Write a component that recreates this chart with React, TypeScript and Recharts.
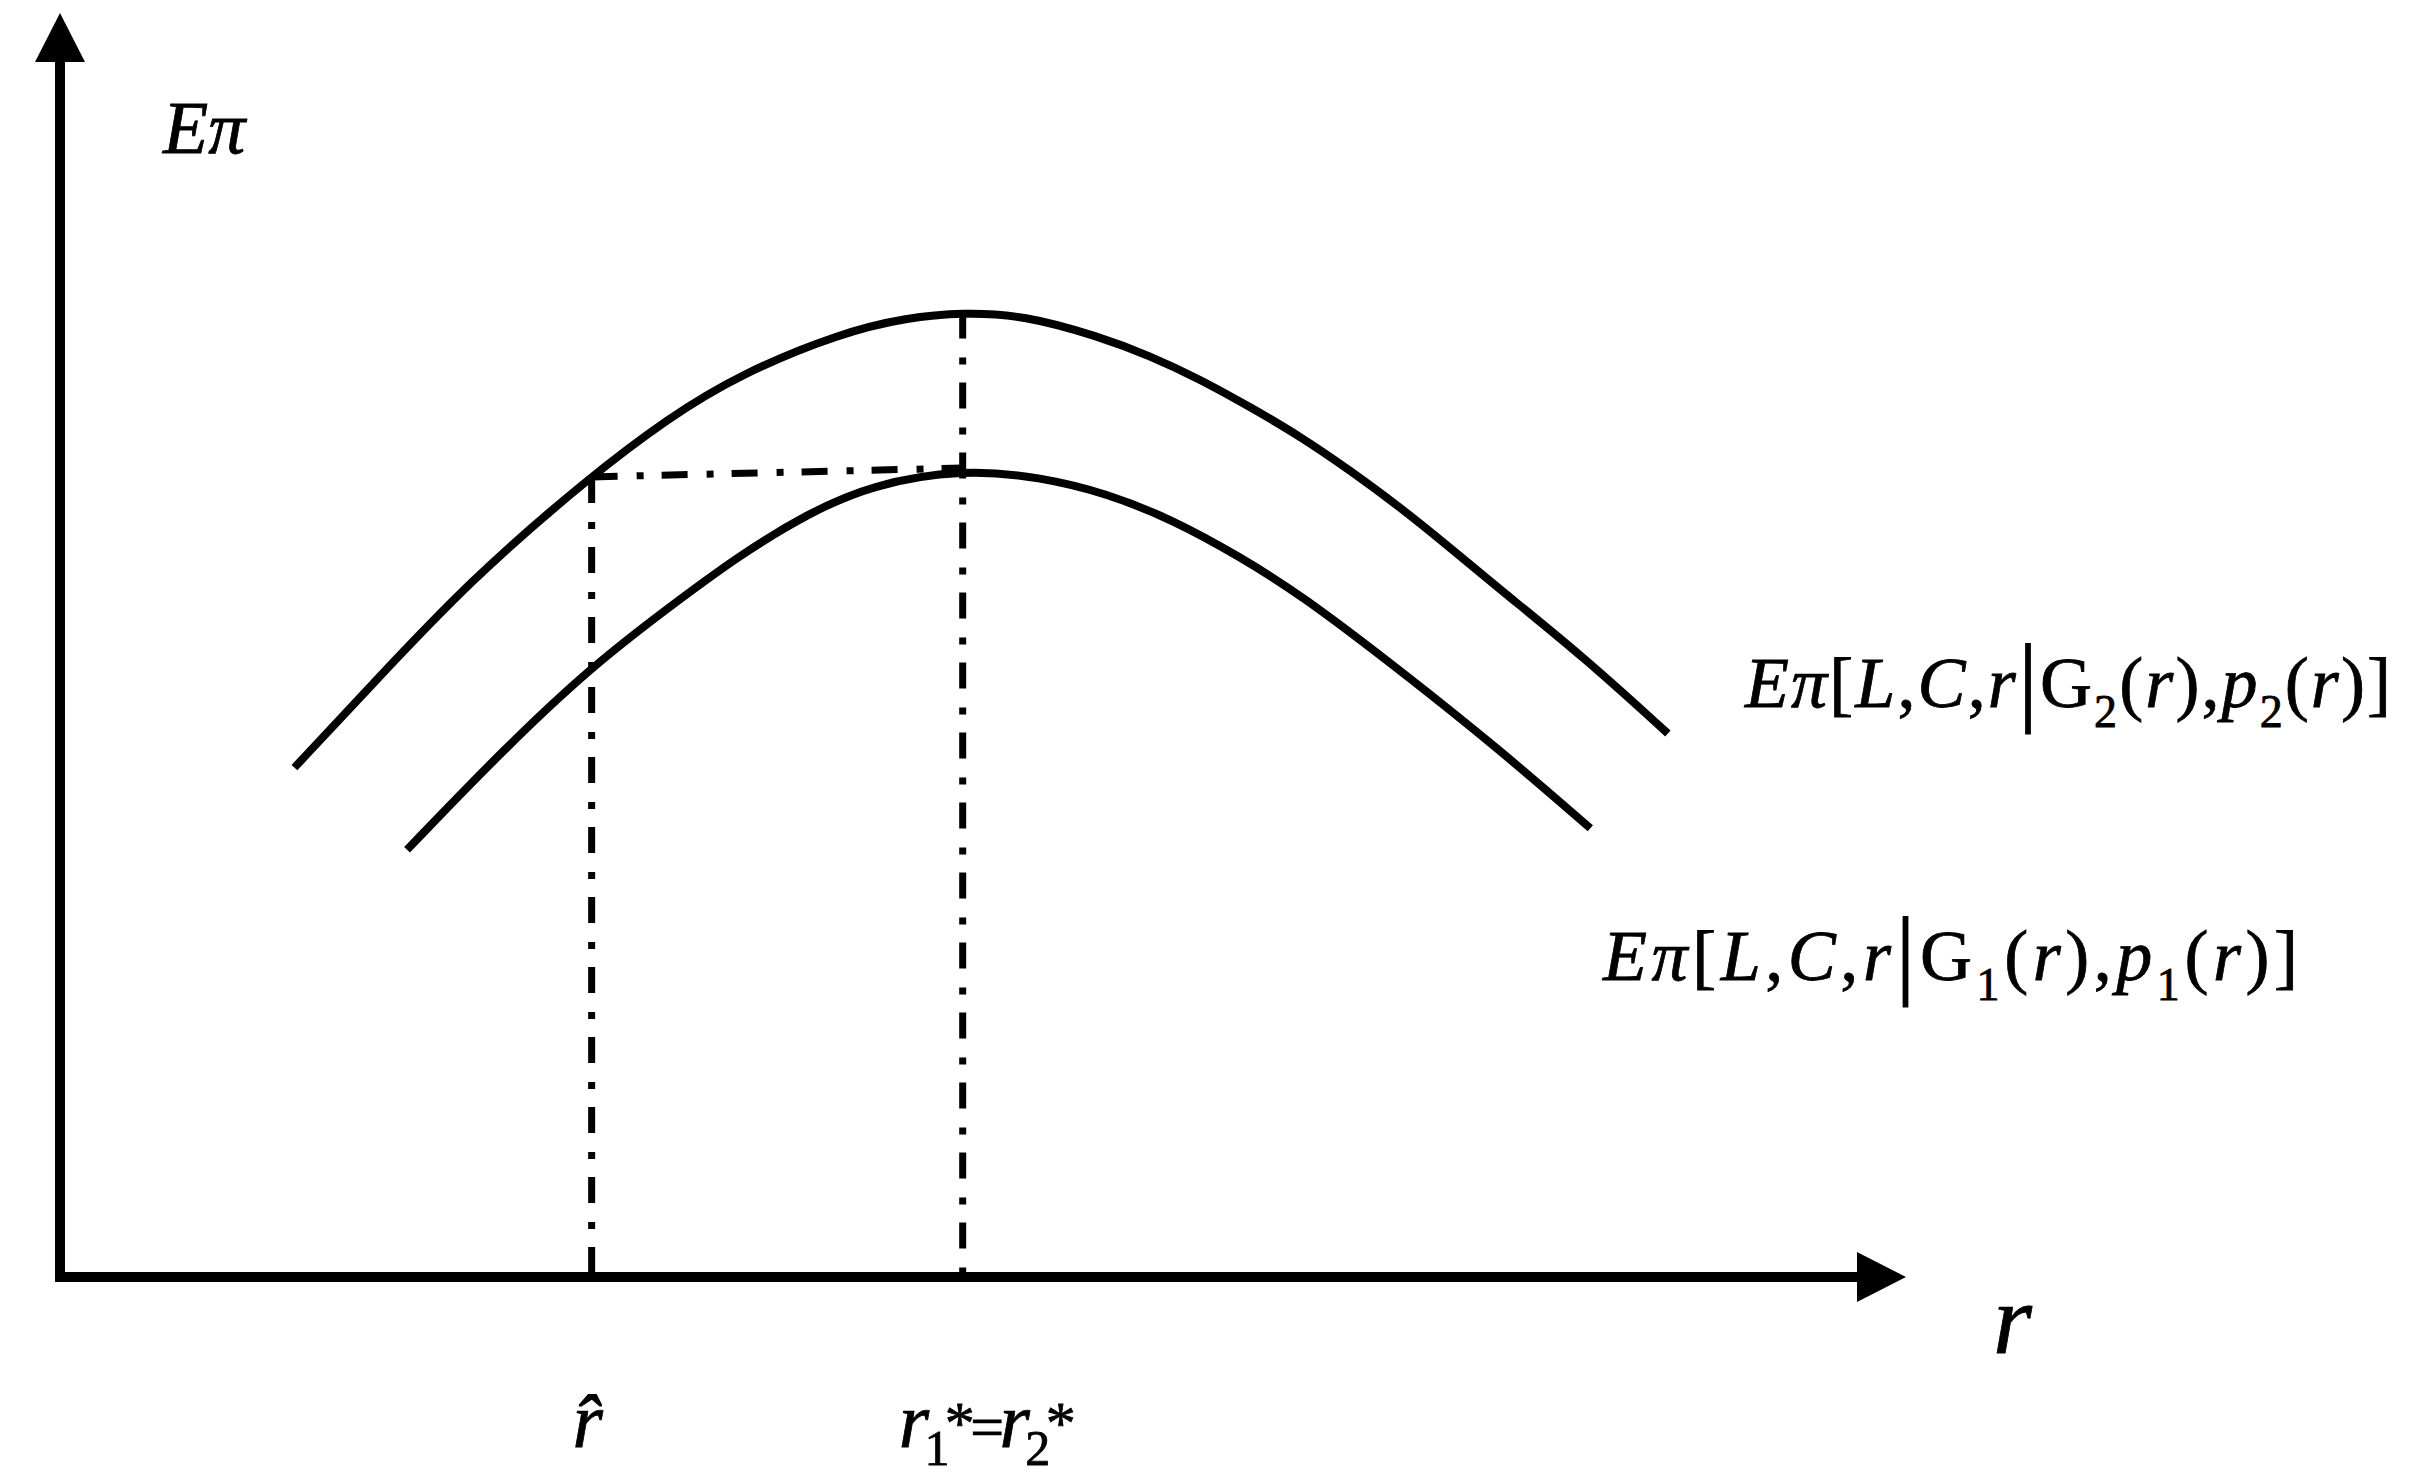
import { LineChart, Line, XAxis, YAxis, ReferenceLine, ReferenceDot } from "recharts"

// upper curve: Eπ[L,C,r | G2(r), p2(r)]
const upperR = [12.7, 16.8, 22.2, 28.7, 33.0, 36.8, 42.3, 45.9, 48.9, 52.2, 56.3, 59.0, 61.8, 64.5, 67.2, 69.9, 72.6, 75.3, 78.0, 82.5, 87.1]
const upperPi = [40.3, 46.7, 55.1, 63.3, 68.0, 71.4, 74.7, 75.9, 76.3, 76.1, 74.4, 72.9, 71.0, 68.8, 66.5, 63.8, 60.9, 57.7, 54.4, 49.1, 43.0]

// lower curve: Eπ[L,C,r | G1(r), p1(r)]
const lowerR = [18.8, 24.0, 28.8, 33.0, 36.8, 40.5, 44.0, 48.9, 53.1, 56.7, 60.3, 63.9, 67.2, 72.6, 78.0, 82.9]
const lowerPi = [33.8, 41.7, 48.3, 53.0, 57.1, 60.4, 62.7, 63.9, 63.3, 62.0, 59.9, 57.0, 54.0, 48.0, 41.7, 35.5]

// marked rates on the r axis
const rHat = 28.8
const rStar = 48.9
const piAtRHat = 63.3
const piUpperPeak = 76.3
const piLowerPeak = 64.0

const axisArrowY = 96.1
const axisArrowX = 97.3

const upperData = upperR.map((r, i) => ({ r, pi: upperPi[i] }))
const lowerData = lowerR.map((r, i) => ({ r, pi: lowerPi[i] }))

const FONT = "'Liberation Serif', 'Times New Roman', serif"
const dashDot = "26 19 7 18"

const ArrowUp = (p: any) => (
    <polygon points={`${p.cx},${p.cy} ${p.cx - 25},${p.cy + 49} ${p.cx + 25},${p.cy + 49}`} fill="#000" />
)
const ArrowRight = (p: any) => (
    <polygon points={`${p.cx},${p.cy} ${p.cx - 49},${p.cy - 25} ${p.cx - 49},${p.cy + 25}`} fill="#000" />
)

function RTick(props: any) {
    const { x, y, payload } = props
    const base = y + 170
    if (payload.value === rHat) {
        return (
            <text x={x - 4} y={base} textAnchor="middle" fontFamily={FONT} fontSize={78} fontStyle="italic" fill="#000" stroke="#000" strokeWidth={0.8}>
                {"r\u0302"}
            </text>
        )
    }
    return (
        <text x={x - 64} y={base} fontFamily={FONT} fontSize={78} fill="#000" stroke="#000" strokeWidth={0.8} textLength={177} lengthAdjust="spacing">
            <tspan fontStyle="italic">r</tspan>
            <tspan fontSize={50} dy={18}>1</tspan>
            <tspan fontSize={60} dy={-22}>*</tspan>
            <tspan fontSize={60} dy={4}>=</tspan>
            <tspan fontStyle="italic">r</tspan>
            <tspan fontSize={50} dy={18}>2</tspan>
            <tspan fontSize={60} dy={-22}>*</tspan>
        </text>
    )
}

function CurveLabel({ x, y, idx, width }: { x: number; y: number; idx: string; width: number }) {
    return (
        <text x={x} y={y} fontFamily={FONT} fontSize={72} fill="#000" stroke="#000" strokeWidth={0.8} textLength={width} lengthAdjust="spacing">
            <tspan fontStyle="italic">Eπ</tspan>
            <tspan>[</tspan>
            <tspan fontStyle="italic">L</tspan>
            <tspan>,</tspan>
            <tspan fontStyle="italic">C</tspan>
            <tspan>,</tspan>
            <tspan fontStyle="italic">r</tspan>
            <tspan fontSize={100} dy={6}>|</tspan>
            <tspan dy={-6}>G</tspan>
            <tspan fontSize={46} dy={20}>{idx}</tspan>
            <tspan dy={-20}>(</tspan>
            <tspan fontStyle="italic">r</tspan>
            <tspan>),</tspan>
            <tspan fontStyle="italic">p</tspan>
            <tspan fontSize={46} dy={20}>{idx}</tspan>
            <tspan dy={-20}>(</tspan>
            <tspan fontStyle="italic">r</tspan>
            <tspan>)]</tspan>
        </text>
    )
}

export default function App() {
    return (
        <div style={{ position: "absolute", left: 0, top: 0, width: 2410, height: 1476, background: "#fff" }}>
            <LineChart width={2410} height={1476} margin={{ top: 13, right: 504, left: 60, bottom: 0 }}>
                <XAxis
                    type="number"
                    dataKey="r"
                    domain={[0, 100]}
                    allowDataOverflow
                    ticks={[rHat, rStar]}
                    interval={0}
                    height={199}
                    axisLine={false}
                    tickLine={false}
                    tickSize={0}
                    tickMargin={0}
                    tick={<RTick />}
                />
                <YAxis type="number" dataKey="pi" domain={[0, 100]} allowDataOverflow hide />

                {/* axes with arrowheads */}
                <ReferenceLine segment={[{ x: 0, y: 0 }, { x: 0, y: axisArrowY }]} stroke="#000" strokeWidth={10} strokeLinecap="square" ifOverflow="visible" />
                <ReferenceLine segment={[{ x: 0, y: 0 }, { x: axisArrowX, y: 0 }]} stroke="#000" strokeWidth={10} strokeLinecap="square" ifOverflow="visible" />
                <ReferenceDot x={0} y={100} r={1} shape={ArrowUp} ifOverflow="visible" />
                <ReferenceDot x={100} y={0} r={1} shape={ArrowRight} ifOverflow="visible" />

                {/* dash-dot guides */}
                <ReferenceLine segment={[{ x: rHat, y: piAtRHat }, { x: rHat, y: 0 }]} stroke="#000" strokeWidth={7} strokeDasharray={dashDot} ifOverflow="visible" />
                <ReferenceLine segment={[{ x: rHat, y: piAtRHat }, { x: rStar, y: piLowerPeak }]} stroke="#000" strokeWidth={7} strokeDasharray={dashDot} ifOverflow="visible" />
                <ReferenceLine segment={[{ x: rStar, y: piUpperPeak }, { x: rStar, y: 0 }]} stroke="#000" strokeWidth={7} strokeDasharray={dashDot} ifOverflow="visible" />

                <Line data={upperData} dataKey="pi" type="basis" stroke="#000" strokeWidth={8} dot={false} isAnimationActive={false} />
                <Line data={lowerData} dataKey="pi" type="basis" stroke="#000" strokeWidth={8} dot={false} isAnimationActive={false} />

                <text x={163} y={153} fontFamily={FONT} fontSize={74} fontStyle="italic" fill="#000" stroke="#000" strokeWidth={0.8}>Eπ</text>
                <text x={1993} y={1353} fontFamily={FONT} fontSize={100} fontStyle="italic" fill="#000" stroke="#000" strokeWidth={0.8}>r</text>
                <CurveLabel x={1745} y={707} idx="2" width={646} />
                <CurveLabel x={1603} y={980} idx="1" width={695} />
            </LineChart>
        </div>
    )
}
